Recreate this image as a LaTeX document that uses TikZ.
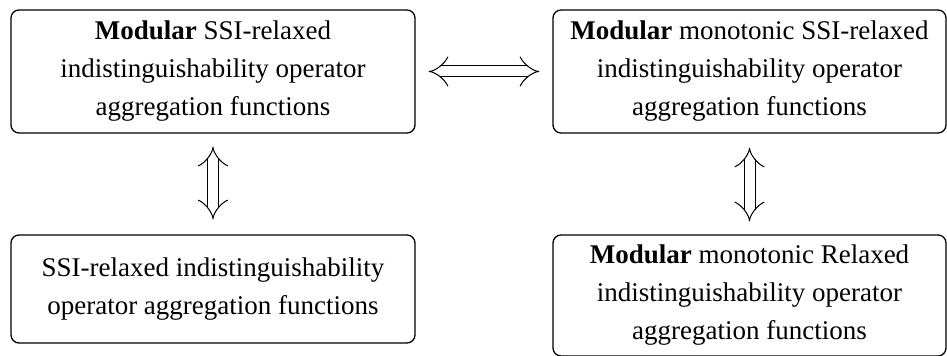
\documentclass[tikz,border=0pt]{standalone}
\usepackage{fontspec}
\setmainfont{Liberation Serif}
\usetikzlibrary{arrows.meta}
\begin{document}
\begin{tikzpicture}[x=0.5pt,y=-0.5pt,
  box/.style={draw, rounded corners=4pt, line width=0.65pt, align=center,
    font=\fontsize{13.5}{19}\selectfont, inner sep=0pt},
  dbl/.style={double, double distance=5pt, line width=0.5pt,
    {Implies[length=11pt, width=17pt]}-{Implies[length=11pt, width=17pt]}}]
\useasboundingbox (0,0) rectangle (947,356);
\node[box, minimum width=404*0.5pt, minimum height=123*0.5pt] (tl) at (213,71.5)
  {\textbf{Modular} SSI-relaxed\\indistinguishability operator\\aggregation functions};
\node[box, minimum width=393*0.5pt, minimum height=123*0.5pt] (tr) at (749.5,71.5)
  {\textbf{Modular} monotonic SSI-relaxed\\indistinguishability operator\\aggregation functions};
\node[box, minimum width=404*0.5pt, minimum height=108*0.5pt] (bl) at (213,289)
  {SSI-relaxed indistinguishability\\operator aggregation functions};
\node[box, minimum width=393*0.5pt, minimum height=121*0.5pt] (br) at (749.5,295.5)
  {\textbf{Modular} monotonic Relaxed\\indistinguishability operator\\aggregation functions};
\draw[dbl, shorten <=6.5pt, shorten >=6.5pt] (tl.east) -- (tr.west);
\draw[dbl, shorten <=6.5pt, shorten >=7.5pt] (tl.south) -- (bl.north);
\draw[dbl, shorten <=7pt, shorten >=6.5pt] (tr.south) -- (br.north);
\end{tikzpicture}
\end{document}
